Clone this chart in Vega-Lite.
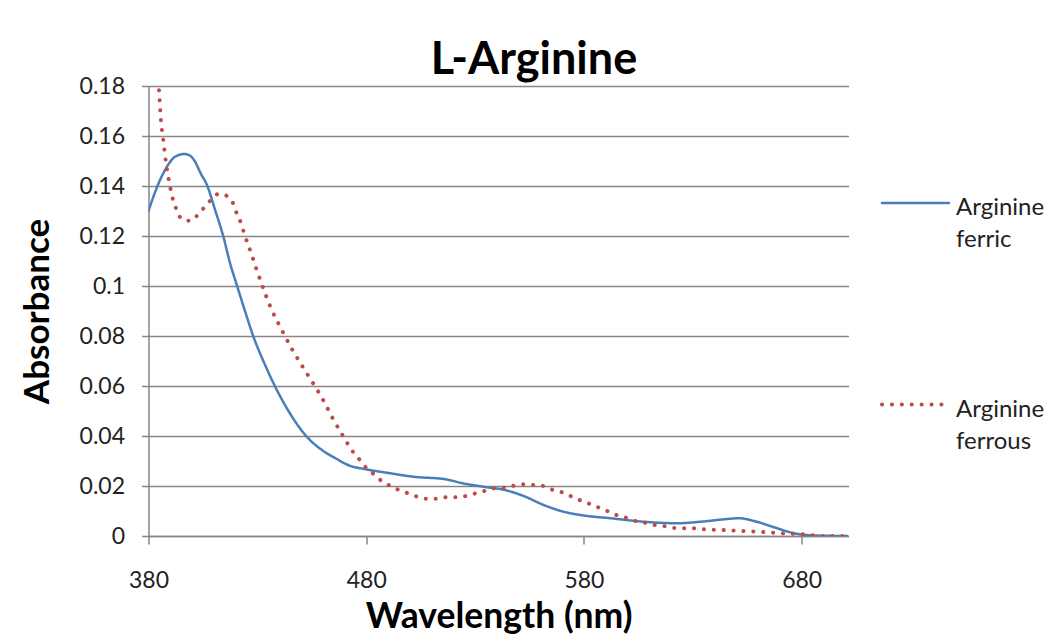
{
  "$schema": "https://vega.github.io/schema/vega-lite/v6.json",
  "width": 700,
  "height": 450,
  "autosize": "none",
  "padding": {"left": 148.5, "top": 86, "right": 200.5, "bottom": 100},
  "background": "white",
  "config": {"view": {"stroke": null}, "font": "Lato"},
  "title": {"text": "L-Arginine", "font": "Lato", "fontSize": 45, "fontWeight": "bold", "color": "#000", "anchor": "middle", "frame": "group", "dx": 35.5, "dy": 44, "baseline": "alphabetic", "offset": 0},
  "data": {"values": [
    {"nm": 380, "abs": 0.1300, "s": "Arginine ferric"},
    {"nm": 383, "abs": 0.1375, "s": "Arginine ferric"},
    {"nm": 385.3, "abs": 0.1424, "s": "Arginine ferric"},
    {"nm": 388, "abs": 0.1470, "s": "Arginine ferric"},
    {"nm": 392.2, "abs": 0.1517, "s": "Arginine ferric"},
    {"nm": 396.5, "abs": 0.1528, "s": "Arginine ferric"},
    {"nm": 399, "abs": 0.1522, "s": "Arginine ferric"},
    {"nm": 401.4, "abs": 0.1497, "s": "Arginine ferric"},
    {"nm": 404, "abs": 0.1450, "s": "Arginine ferric"},
    {"nm": 406.8, "abs": 0.1405, "s": "Arginine ferric"},
    {"nm": 410.6, "abs": 0.1304, "s": "Arginine ferric"},
    {"nm": 414.4, "abs": 0.1197, "s": "Arginine ferric"},
    {"nm": 417.5, "abs": 0.1090, "s": "Arginine ferric"},
    {"nm": 420.8, "abs": 0.0997, "s": "Arginine ferric"},
    {"nm": 424.5, "abs": 0.0895, "s": "Arginine ferric"},
    {"nm": 428.2, "abs": 0.0797, "s": "Arginine ferric"},
    {"nm": 433, "abs": 0.0695, "s": "Arginine ferric"},
    {"nm": 438.2, "abs": 0.0597, "s": "Arginine ferric"},
    {"nm": 445, "abs": 0.0490, "s": "Arginine ferric"},
    {"nm": 452.7, "abs": 0.0397, "s": "Arginine ferric"},
    {"nm": 459, "abs": 0.0348, "s": "Arginine ferric"},
    {"nm": 466.5, "abs": 0.0308, "s": "Arginine ferric"},
    {"nm": 471.1, "abs": 0.0286, "s": "Arginine ferric"},
    {"nm": 480.3, "abs": 0.0266, "s": "Arginine ferric"},
    {"nm": 489.5, "abs": 0.0253, "s": "Arginine ferric"},
    {"nm": 501.7, "abs": 0.0237, "s": "Arginine ferric"},
    {"nm": 516.3, "abs": 0.0227, "s": "Arginine ferric"},
    {"nm": 524.7, "abs": 0.0210, "s": "Arginine ferric"},
    {"nm": 533.9, "abs": 0.0197, "s": "Arginine ferric"},
    {"nm": 543.1, "abs": 0.0185, "s": "Arginine ferric"},
    {"nm": 552.3, "abs": 0.0160, "s": "Arginine ferric"},
    {"nm": 561.5, "abs": 0.0124, "s": "Arginine ferric"},
    {"nm": 570.7, "abs": 0.0097, "s": "Arginine ferric"},
    {"nm": 579.9, "abs": 0.0082, "s": "Arginine ferric"},
    {"nm": 592.2, "abs": 0.0071, "s": "Arginine ferric"},
    {"nm": 607.5, "abs": 0.0057, "s": "Arginine ferric"},
    {"nm": 622.9, "abs": 0.0051, "s": "Arginine ferric"},
    {"nm": 633.6, "abs": 0.0057, "s": "Arginine ferric"},
    {"nm": 645.8, "abs": 0.0068, "s": "Arginine ferric"},
    {"nm": 651.2, "abs": 0.0071, "s": "Arginine ferric"},
    {"nm": 658.1, "abs": 0.0060, "s": "Arginine ferric"},
    {"nm": 667.3, "abs": 0.0035, "s": "Arginine ferric"},
    {"nm": 676.5, "abs": 0.0011, "s": "Arginine ferric"},
    {"nm": 685.7, "abs": 0.0002, "s": "Arginine ferric"},
    {"nm": 701, "abs": 0.0, "s": "Arginine ferric"},
    {"nm": 383, "abs": 0.19, "s": "Arginine ferrous"},
    {"nm": 384.8, "abs": 0.1787, "s": "Arginine ferrous"},
    {"nm": 385.7, "abs": 0.1664, "s": "Arginine ferrous"},
    {"nm": 386.8, "abs": 0.1584, "s": "Arginine ferrous"},
    {"nm": 387.9, "abs": 0.1501, "s": "Arginine ferrous"},
    {"nm": 389.4, "abs": 0.1421, "s": "Arginine ferrous"},
    {"nm": 391.4, "abs": 0.1341, "s": "Arginine ferrous"},
    {"nm": 393.0, "abs": 0.1304, "s": "Arginine ferrous"},
    {"nm": 395.3, "abs": 0.1267, "s": "Arginine ferrous"},
    {"nm": 399.1, "abs": 0.1261, "s": "Arginine ferrous"},
    {"nm": 402.6, "abs": 0.1284, "s": "Arginine ferrous"},
    {"nm": 405.7, "abs": 0.1315, "s": "Arginine ferrous"},
    {"nm": 408.7, "abs": 0.1344, "s": "Arginine ferrous"},
    {"nm": 412.1, "abs": 0.1368, "s": "Arginine ferrous"},
    {"nm": 416.1, "abs": 0.1360, "s": "Arginine ferrous"},
    {"nm": 419.0, "abs": 0.1328, "s": "Arginine ferrous"},
    {"nm": 420.6, "abs": 0.1288, "s": "Arginine ferrous"},
    {"nm": 422.5, "abs": 0.1251, "s": "Arginine ferrous"},
    {"nm": 423.9, "abs": 0.1211, "s": "Arginine ferrous"},
    {"nm": 427.0, "abs": 0.1135, "s": "Arginine ferrous"},
    {"nm": 430.0, "abs": 0.1057, "s": "Arginine ferrous"},
    {"nm": 433.1, "abs": 0.0981, "s": "Arginine ferrous"},
    {"nm": 436.6, "abs": 0.0904, "s": "Arginine ferrous"},
    {"nm": 440.8, "abs": 0.0831, "s": "Arginine ferrous"},
    {"nm": 445.1, "abs": 0.0760, "s": "Arginine ferrous"},
    {"nm": 450.0, "abs": 0.0688, "s": "Arginine ferrous"},
    {"nm": 455.0, "abs": 0.0619, "s": "Arginine ferrous"},
    {"nm": 459.9, "abs": 0.0549, "s": "Arginine ferrous"},
    {"nm": 464.2, "abs": 0.0477, "s": "Arginine ferrous"},
    {"nm": 468.8, "abs": 0.0408, "s": "Arginine ferrous"},
    {"nm": 473.9, "abs": 0.0337, "s": "Arginine ferrous"},
    {"nm": 476.9, "abs": 0.0306, "s": "Arginine ferrous"},
    {"nm": 480.0, "abs": 0.0273, "s": "Arginine ferrous"},
    {"nm": 483.4, "abs": 0.0248, "s": "Arginine ferrous"},
    {"nm": 486.9, "abs": 0.0221, "s": "Arginine ferrous"},
    {"nm": 491.0, "abs": 0.0201, "s": "Arginine ferrous"},
    {"nm": 495.0, "abs": 0.0184, "s": "Arginine ferrous"},
    {"nm": 499.2, "abs": 0.0171, "s": "Arginine ferrous"},
    {"nm": 503.6, "abs": 0.0157, "s": "Arginine ferrous"},
    {"nm": 507.9, "abs": 0.0149, "s": "Arginine ferrous"},
    {"nm": 512.2, "abs": 0.0149, "s": "Arginine ferrous"},
    {"nm": 516.8, "abs": 0.0155, "s": "Arginine ferrous"},
    {"nm": 521.4, "abs": 0.0155, "s": "Arginine ferrous"},
    {"nm": 525.8, "abs": 0.0160, "s": "Arginine ferrous"},
    {"nm": 530.4, "abs": 0.0171, "s": "Arginine ferrous"},
    {"nm": 534.6, "abs": 0.0181, "s": "Arginine ferrous"},
    {"nm": 538.9, "abs": 0.0191, "s": "Arginine ferrous"},
    {"nm": 543.1, "abs": 0.0193, "s": "Arginine ferrous"},
    {"nm": 547.7, "abs": 0.0201, "s": "Arginine ferrous"},
    {"nm": 552.3, "abs": 0.0207, "s": "Arginine ferrous"},
    {"nm": 556.9, "abs": 0.0204, "s": "Arginine ferrous"},
    {"nm": 561.5, "abs": 0.0200, "s": "Arginine ferrous"},
    {"nm": 565.8, "abs": 0.0184, "s": "Arginine ferrous"},
    {"nm": 570.0, "abs": 0.0175, "s": "Arginine ferrous"},
    {"nm": 573.8, "abs": 0.0160, "s": "Arginine ferrous"},
    {"nm": 577.9, "abs": 0.0144, "s": "Arginine ferrous"},
    {"nm": 582.2, "abs": 0.0130, "s": "Arginine ferrous"},
    {"nm": 586.5, "abs": 0.0115, "s": "Arginine ferrous"},
    {"nm": 590.7, "abs": 0.0100, "s": "Arginine ferrous"},
    {"nm": 594.9, "abs": 0.0084, "s": "Arginine ferrous"},
    {"nm": 599.4, "abs": 0.0073, "s": "Arginine ferrous"},
    {"nm": 603.7, "abs": 0.0060, "s": "Arginine ferrous"},
    {"nm": 607.9, "abs": 0.0053, "s": "Arginine ferrous"},
    {"nm": 612.4, "abs": 0.0044, "s": "Arginine ferrous"},
    {"nm": 616.7, "abs": 0.0040, "s": "Arginine ferrous"},
    {"nm": 620.5, "abs": 0.0033, "s": "Arginine ferrous"},
    {"nm": 625.1, "abs": 0.0031, "s": "Arginine ferrous"},
    {"nm": 629.7, "abs": 0.0031, "s": "Arginine ferrous"},
    {"nm": 634.3, "abs": 0.0027, "s": "Arginine ferrous"},
    {"nm": 643.5, "abs": 0.0024, "s": "Arginine ferrous"},
    {"nm": 652.7, "abs": 0.0020, "s": "Arginine ferrous"},
    {"nm": 661.9, "abs": 0.0016, "s": "Arginine ferrous"},
    {"nm": 671.1, "abs": 0.0011, "s": "Arginine ferrous"},
    {"nm": 679.9, "abs": 0.0007, "s": "Arginine ferrous"},
    {"nm": 684.1, "abs": 0.0004, "s": "Arginine ferrous"},
    {"nm": 688.7, "abs": 0.0, "s": "Arginine ferrous"},
    {"nm": 701.3, "abs": 0.0, "s": "Arginine ferrous"}
  ]},
  "mark": {"type": "line", "strokeCap": "round", "strokeJoin": "round", "clip": true, "interpolate": "monotone"},
  "encoding": {
    "x": {"field": "nm", "type": "quantitative",
      "scale": {"domain": [380, 701.5], "nice": false, "zero": false},
      "axis": {"values": [380, 480, 580, 680], "grid": false, "labelFlush": false, "domainColor": "#868686", "domainWidth": 1.5,
        "tickColor": "#868686", "tickSize": 8, "tickWidth": 1.5, "labelFont": "Lato", "labelFontSize": 23, "labelColor": "#222",
        "labelPadding": 25, "title": "Wavelength (nm)", "titleFont": "Lato", "titleFontSize": 35.5, "titleFontWeight": "bold", "titleColor": "#000", "titlePadding": 7}},
    "y": {"field": "abs", "type": "quantitative",
      "scale": {"domain": [0, 0.18], "nice": false},
      "axis": {"values": [0, 0.02, 0.04, 0.06, 0.08, 0.1, 0.12, 0.14, 0.16, 0.18], "format": "~g", "grid": true,
        "gridColor": "#868686", "gridWidth": 1.5, "domainColor": "#868686", "domainWidth": 1.5,
        "tickColor": "#868686", "tickSize": 7, "tickWidth": 1.5, "labelFont": "Lato", "labelFontSize": 23, "labelColor": "#222",
        "labelPadding": 17, "title": "Absorbance", "titleFont": "Lato", "titleFontSize": 35, "titleFontWeight": "bold", "titleColor": "#000", "titlePadding": 24}},
    "color": {"field": "s", "type": "nominal",
      "scale": {"domain": ["Arginine ferric", "Arginine ferrous"], "range": ["#4a7ebb", "#be4b48"]},
      "legend": {"title": null, "orient": "none", "legendX": 731.5, "legendY": 82, "symbolType": "stroke", "symbolSize": 4489,
        "labelFont": "Lato", "labelFontSize": 24, "labelColor": "#222", "labelOffset": 5, "rowPadding": 117,
        "labelExpr": "split(datum.label, ' ')", "labelBaseline": "top",
        "encode": {"symbols": {"update": {"strokeCap": {"value": "round"}}}, "labels": {"update": {"lineHeight": {"value": 32}, "dy": {"value": -7}}}}}},
    "strokeDash": {"field": "s", "type": "nominal",
      "scale": {"domain": ["Arginine ferric", "Arginine ferrous"], "range": [[1, 0], [0.1, 9.8]]}},
    "strokeWidth": {"field": "s", "type": "nominal",
      "scale": {"domain": ["Arginine ferric", "Arginine ferrous"], "range": [2.5, 4]}}
  }
}
